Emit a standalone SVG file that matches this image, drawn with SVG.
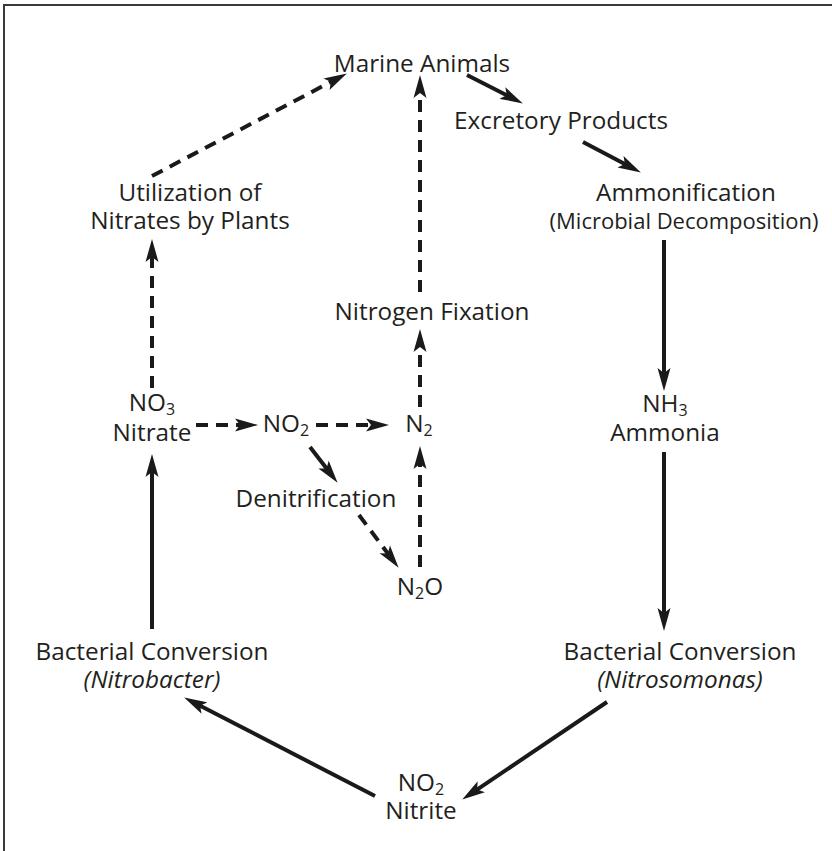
<svg xmlns="http://www.w3.org/2000/svg" width="832" height="851" viewBox="0 0 832 851">
<style>
text{font-family:"Open Sans","Noto Sans","Liberation Sans",sans-serif;font-size:24.3px;fill:#231f20;text-anchor:middle}
.it{font-style:italic}
.sub{font-size:16px}
.c{stroke:#1a1a1a;stroke-width:4;fill:none}
.d{stroke-dasharray:12 8}
</style>
<defs>
<marker id="ah" markerUnits="userSpaceOnUse" markerWidth="24" markerHeight="14" refX="6" refY="7" orient="auto">
<path d="M0,0.5 L23,7 L0,13.5 L5,7 Z" fill="#1a1a1a"/>
</marker>
</defs>
<rect width="832" height="851" fill="#fff"/>
<path d="M4,851 V5 H832" fill="none" stroke="#3a3a3a" stroke-width="2"/>
<g id="connectors">
<line class="c d" x1="152" y1="176" x2="331.8" y2="81.4" marker-end="url(#ah)"/>
<line class="c d" x1="420" y1="292" x2="420" y2="92" marker-end="url(#ah)"/>
<line class="c d" x1="420" y1="407" x2="420" y2="346" marker-end="url(#ah)"/>
<line class="c d" x1="420" y1="567" x2="420" y2="463" marker-end="url(#ah)"/>
<line class="c d" x1="196" y1="425" x2="241" y2="425" marker-end="url(#ah)"/>
<line class="c d" x1="316" y1="425" x2="372" y2="425" marker-end="url(#ah)"/>
<line class="c" x1="310" y1="447" x2="327.2" y2="469.3" marker-end="url(#ah)"/>
<line class="c d" x1="359" y1="515" x2="388.4" y2="554.2" marker-end="url(#ah)"/>
<line class="c d" x1="152" y1="388" x2="152" y2="256" marker-end="url(#ah)"/>
<line class="c" x1="152" y1="629" x2="152" y2="471" marker-end="url(#ah)"/>
<line class="c" x1="375" y1="796" x2="199.2" y2="705.3" marker-end="url(#ah)"/>
<line class="c" x1="607" y1="702" x2="476.3" y2="790.1" marker-end="url(#ah)"/>
<line class="c" x1="664" y1="452" x2="664" y2="614" marker-end="url(#ah)"/>
<line class="c" x1="664" y1="240" x2="664" y2="374" marker-end="url(#ah)"/>
<line class="c" x1="583" y1="142" x2="625.8" y2="164.5" marker-end="url(#ah)"/>
<line class="c" x1="467" y1="75" x2="507.7" y2="95.7" marker-end="url(#ah)"/>
</g>
<g id="marine"><text x="422" y="72">Marine Animals</text></g>
<g id="excretory"><text x="561" y="129">Excretory Products</text></g>
<g id="utilization"><text x="190" y="201">Utilization of</text><text x="190" y="229">Nitrates by Plants</text></g>
<g id="ammonification"><text x="686" y="201">Ammonification</text><text x="684" y="229" style="font-size:22px">(Microbial Decomposition)</text></g>
<g id="fixation"><text x="432" y="320">Nitrogen Fixation</text></g>
<g id="nitrate"><text x="152" y="411">NO<tspan class="sub" dy="4">3</tspan></text><text x="152" y="441">Nitrate</text></g>
<g id="no2"><text x="286" y="432">NO<tspan class="sub" dy="4">2</tspan></text></g>
<g id="n2"><text x="419" y="432">N<tspan class="sub" dy="4">2</tspan></text></g>
<g id="denitrification"><text x="316" y="507">Denitrification</text></g>
<g id="n2o"><text x="420" y="595">N<tspan class="sub" dy="4">2</tspan><tspan dy="-4">O</tspan></text></g>
<g id="ammonia"><text x="665" y="412">NH<tspan class="sub" dy="4">3</tspan></text><text x="665" y="441">Ammonia</text></g>
<g id="nitrobacter"><text x="152" y="660">Bacterial Conversion</text><text class="it" x="152" y="688">(Nitrobacter)</text></g>
<g id="nitrosomonas"><text x="680" y="660">Bacterial Conversion</text><text class="it" x="680" y="688">(Nitrosomonas)</text></g>
<g id="nitrite"><text x="421" y="791">NO<tspan class="sub" dy="4">2</tspan></text><text x="421" y="819">Nitrite</text></g>
</svg>
